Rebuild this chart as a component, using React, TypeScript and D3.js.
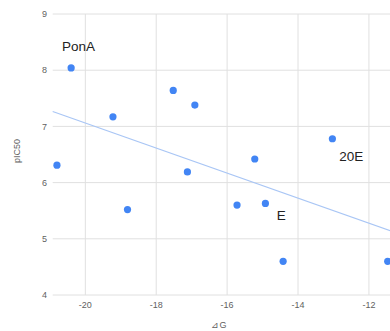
import React, { useRef, useEffect } from 'react';
import * as d3 from 'd3';

// values
const deltaG = [-20.4, -20.8, -19.22, -18.81, -17.52, -16.91, -17.12, -15.72, -15.22, -14.92, -14.42, -13.03, -11.47];
const pIC50 = [8.04, 6.31, 7.17, 5.52, 7.64, 7.38, 6.19, 5.6, 6.42, 5.63, 4.6, 6.78, 4.6];
const xTicks = [-20, -18, -16, -14, -12];
const yTicks = [4, 5, 6, 7, 8, 9];
const labelNames = ['PonA', '20E', 'E'];
const labelX = [-20.66, -12.84, -14.6];
const labelY = [8.35, 6.38, 5.34];

const App = () => {
  const ref = useRef<SVGSVGElement>(null);

  useEffect(() => {
    const svg = d3.select(ref.current);
    svg.selectAll('*').remove();

    const width = 390;
    const height = 331;
    const left = 52.7;
    const top = 14;
    const bottom = 295;

    const x = d3.scaleLinear().domain([-20.92, -11]).range([left, left + 9.92 * 35.45]);
    const y = d3.scaleLinear().domain([4, 9]).range([bottom, top]);
    const xMax = x.domain()[1];

    svg.attr('viewBox', `0 0 ${width} ${height}`);

    // grid
    svg.append('g').selectAll('line').data(yTicks).join('line')
      .attr('x1', left).attr('x2', x(xMax)).attr('y1', d => y(d)).attr('y2', d => y(d))
      .attr('stroke', '#e0e0e0').attr('stroke-width', 1);
    svg.append('g').selectAll('line').data(xTicks).join('line')
      .attr('x1', d => x(d)).attr('x2', d => x(d)).attr('y1', top).attr('y2', bottom)
      .attr('stroke', '#e0e0e0').attr('stroke-width', 1);

    const tickFont = 'Liberation Sans, Arial, sans-serif';
    svg.append('g').selectAll('text').data(yTicks).join('text')
      .attr('x', 47).attr('y', d => y(d)).attr('dy', '0.35em').attr('text-anchor', 'end')
      .attr('font-family', tickFont).attr('font-size', 9).attr('fill', '#5f5f5f').text(d => d);
    svg.append('g').selectAll('text').data(xTicks).join('text')
      .attr('x', d => x(d)).attr('y', 307.5).attr('text-anchor', 'middle')
      .attr('font-family', tickFont).attr('font-size', 9).attr('fill', '#5f5f5f').text(d => d);

    // axis titles
    svg.append('text').attr('transform', `translate(19.5,151) rotate(-90)`).attr('text-anchor', 'middle')
      .attr('font-family', tickFont).attr('font-size', 9).attr('fill', '#5f5f5f').text('pIC50');
    svg.append('text').attr('x', 219).attr('y', 327.5).attr('text-anchor', 'middle')
      .attr('font-family', tickFont).attr('font-size', 9).attr('fill', '#5f5f5f').text('⊿G');

    // linear trendline (least squares)
    const mx = d3.mean(deltaG)!;
    const my = d3.mean(pIC50)!;
    const slope = d3.sum(deltaG, (d, i) => (d - mx) * (pIC50[i] - my)) / d3.sum(deltaG, d => (d - mx) ** 2);
    const fit = (v: number) => my + slope * (v - mx);
    const ends = [x.domain()[0], xMax];
    svg.append('path')
      .attr('d', d3.line<number>().x(d => x(d)).y(d => y(fit(d)))(ends))
      .attr('fill', 'none').attr('stroke', '#a9c6f5').attr('stroke-width', 1.2);

    // points
    svg.append('g').selectAll('circle').data(deltaG).join('circle')
      .attr('cx', d => x(d)).attr('cy', (d, i) => y(pIC50[i])).attr('r', 3.6)
      .attr('fill', '#4285f4');

    // annotations
    svg.append('g').selectAll('text').data(labelNames).join('text')
      .attr('x', (d, i) => x(labelX[i])).attr('y', (d, i) => y(labelY[i]))
      .attr('font-family', tickFont).attr('font-size', 13.5).attr('fill', '#222').text(d => d);
  }, []);

  return <svg ref={ref} width={390} height={331} style={{ position: 'absolute', left: 0, top: 0, background: '#fff' }} />;
};

export default App;
